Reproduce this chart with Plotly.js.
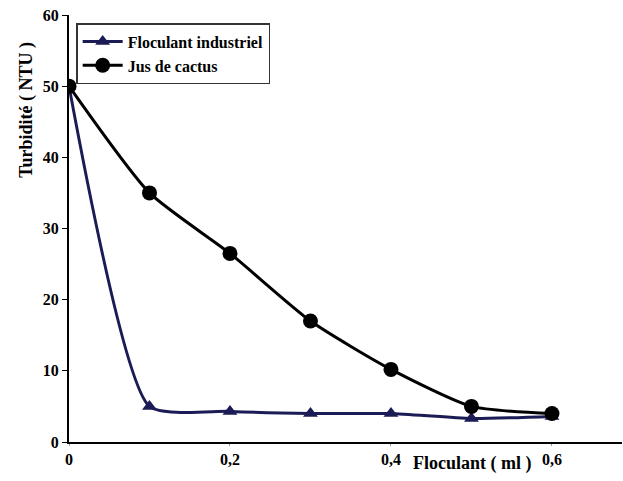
<!DOCTYPE html>
<html><head><meta charset="utf-8">
<script src="https://cdn.plot.ly/plotly-3.0.1.min.js"></script>
<style>html,body{margin:0;padding:0;background:#fff}#chart{width:623px;height:481px}</style>
</head><body><div id="chart"></div>
<script>
const doses = [0, 0.1, 0.2, 0.3, 0.4, 0.5, 0.6];
const industriel = [50, 5, 4.3, 4, 4, 3.3, 3.6];
const cactus = [50, 35, 26.5, 17, 10.2, 5, 4];
const xTickVals = [0, 0.2, 0.4, 0.6];
const xTickText = ['0', '0,2', '0,4', '0,6'];
const yTickVals = [0, 10, 20, 30, 40, 50, 60];

const serif = '"Times New Roman", "Liberation Serif", Times, serif';
const traces = [
  {x: doses, y: industriel, name: 'Floculant industriel', mode: 'lines+markers',
   line: {color: '#1b1b55', width: 3, shape: 'spline', smoothing: 0.55},
   marker: {symbol: 'triangle-up', size: 13, color: '#1b1b55'}},
  {x: doses, y: cactus, name: 'Jus de cactus', mode: 'lines+markers',
   line: {color: '#000', width: 3, shape: 'spline', smoothing: 0.6},
   marker: {symbol: 'circle', size: 15, color: '#000'}}
];
const layout = {
  width: 623, height: 481,
  font: {family: serif, color: '#000'},
  margin: {l: 69, r: 1, t: 15, b: 39},
  paper_bgcolor: '#fff', plot_bgcolor: '#fff',
  showlegend: true,
  legend: {x: 0.013, y: 0.981, xanchor: 'left', yanchor: 'top',
    bordercolor: '#333', borderwidth: 1.5, bgcolor: '#fff',
    font: {family: serif, size: 16, color: '#000', weight: 700},
    tracegroupgap: 0, itemwidth: 40},
  xaxis: {range: [0, 0.687], tickvals: xTickVals, ticktext: xTickText,
    showgrid: false, zeroline: false, showline: true, linecolor: '#000', linewidth: 2,
    ticks: 'outside', ticklen: 2, tickcolor: '#999',
    tickfont: {family: serif, size: 16, color: '#000', weight: 700}},
  yaxis: {range: [0, 60], tickvals: yTickVals, showgrid: false, zeroline: false,
    showline: true, linecolor: '#000', linewidth: 2, ticks: 'outside', ticklen: 5,
    tickcolor: '#000', tickfont: {family: serif, size: 16, color: '#000', weight: 700}},
  annotations: [
    {text: 'Floculant ( ml )', xref: 'paper', yref: 'paper', x: 0.729, y: -0.05,
     xanchor: 'center', yanchor: 'middle', showarrow: false,
     font: {family: serif, size: 18, color: '#000', weight: 700}},
    {text: 'Turbidité ( NTU )', xref: 'paper', yref: 'paper', x: -0.076, y: 0.778,
     xanchor: 'center', yanchor: 'middle', textangle: -90, showarrow: false,
     font: {family: serif, size: 18, color: '#000', weight: 700}}
  ]
};
Plotly.newPlot('chart', traces, layout, {displayModeBar: false});
</script></body></html>
